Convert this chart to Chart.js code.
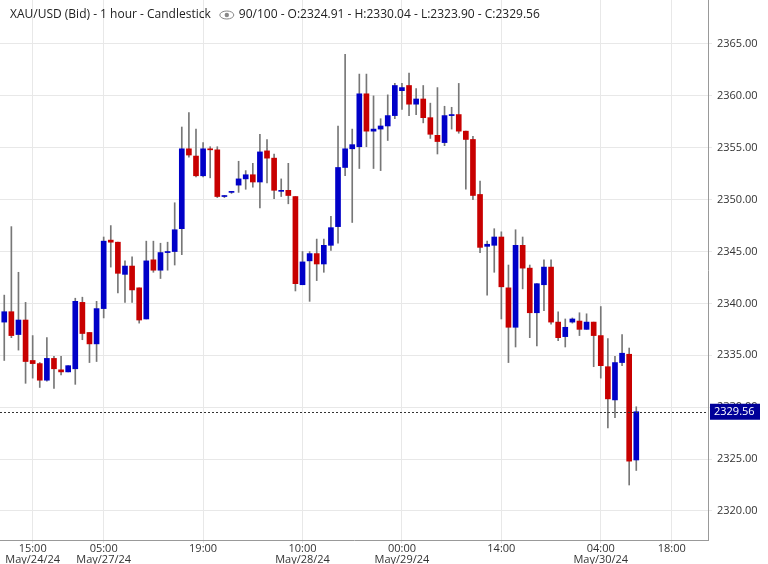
<!DOCTYPE html>
<html>
<head>
<meta charset="utf-8">
<script src="https://cdn.jsdelivr.net/npm/chart.js@4/dist/chart.umd.min.js"></script>
<style>
  body { margin: 0; background: #fff; }
  #wrap { width: 768px; height: 564px; }
</style>
</head>
<body>
<div id="wrap"><canvas id="chart"></canvas></div>
<script>
// OHLC per hourly candle
var opens = [2338.2,2339.2,2337.0,2338.4,2334.5,2334.2,2332.6,2334.7,2333.6,2333.4,
  2333.7,2340.1,2337.2,2336.1,2339.5,2346.1,2345.9,2342.8,2343.6,2341.5,
  2338.5,2344.2,2343.2,2344.9,2345.0,2347.2,2354.9,2354.2,2352.3,2354.9,
  2354.8,2350.3,2350.7,2351.4,2352.0,2352.4,2351.7,2354.7,2354.0,2350.8,
  2350.9,2350.3,2341.8,2344.1,2344.8,2343.8,2345.6,2347.4,2353.1,2354.9,
  2355.1,2360.2,2356.6,2356.8,2357.1,2358.1,2360.5,2361.0,2359.2,2359.7,
  2357.9,2356.2,2355.5,2358.1,2358.2,2356.6,2355.8,2350.5,2345.5,2345.6,
  2346.4,2341.5,2337.7,2345.6,2343.4,2339.1,2341.8,2343.5,2338.2,2336.8,
  2338.2,2338.3,2337.5,2338.2,2336.9,2333.9,2330.7,2334.3,2335.1,2324.91];
var highs = [2340.8,2347.4,2343.0,2340.1,2336.9,2334.3,2336.7,2334.9,2334.9,2334.0,
  2340.5,2340.6,2337.2,2340.2,2346.4,2347.5,2345.9,2344.1,2344.5,2341.5,
  2346.0,2346.0,2345.8,2345.9,2349.7,2357.0,2358.4,2356.8,2355.5,2355.1,
  2355.1,2350.4,2350.8,2353.7,2352.8,2353.5,2356.3,2355.8,2354.4,2352.0,
  2353.5,2350.3,2345.0,2345.0,2346.2,2346.2,2348.4,2357.1,2364.0,2356.8,
  2362.1,2362.1,2360.0,2357.8,2360.1,2361.2,2361.2,2362.2,2360.7,2361.0,
  2359.3,2360.8,2359.0,2358.9,2361.2,2356.6,2356.1,2351.8,2346.0,2347.2,
  2346.9,2343.7,2347.1,2346.4,2343.7,2341.9,2344.2,2344.2,2339.2,2338.5,
  2338.6,2339.1,2339.0,2338.2,2339.7,2336.6,2334.9,2337.0,2335.7,2330.04];
var lows = [2334.5,2336.7,2335.5,2332.3,2332.8,2331.9,2332.5,2331.8,2333.1,2333.4,
  2332.2,2336.5,2334.3,2334.4,2338.6,2343.5,2341.0,2340.1,2340.1,2338.1,
  2338.5,2343.0,2342.4,2343.2,2343.7,2344.7,2354.1,2352.2,2352.2,2352.1,
  2350.2,2350.2,2350.6,2350.7,2351.0,2351.2,2349.2,2351.6,2350.1,2350.3,
  2349.6,2341.2,2341.8,2340.2,2342.2,2343.0,2345.1,2345.8,2352.3,2347.8,
  2353.0,2355.1,2353.0,2352.8,2355.7,2357.8,2358.7,2358.1,2358.2,2357.4,
  2355.9,2354.4,2355.2,2356.8,2356.4,2351.0,2350.0,2344.9,2340.8,2343.0,
  2338.5,2334.3,2335.8,2341.4,2336.7,2335.9,2339.3,2338.0,2336.4,2335.8,
  2338.1,2336.9,2337.5,2333.9,2332.8,2328.0,2329.0,2334.0,2322.5,2323.90];
var closes = [2339.2,2336.9,2338.4,2334.4,2334.2,2332.6,2334.7,2333.7,2333.4,2334.0,
  2340.2,2337.1,2336.1,2339.5,2346.0,2345.9,2342.9,2343.6,2341.3,2338.4,
  2344.1,2343.2,2344.9,2345.0,2347.1,2354.9,2354.3,2352.3,2354.9,2354.8,
  2350.3,2350.3,2350.7,2352.0,2352.4,2351.7,2354.6,2354.0,2350.9,2350.9,
  2350.4,2341.9,2344.0,2344.8,2343.8,2345.6,2347.3,2353.1,2354.9,2355.3,
  2360.2,2356.6,2356.8,2357.1,2358.1,2361.0,2360.8,2359.2,2359.7,2357.9,
  2356.3,2355.6,2358.1,2358.2,2356.6,2355.8,2350.4,2345.4,2345.7,2346.4,
  2341.6,2337.7,2345.6,2343.4,2339.1,2341.9,2343.5,2338.2,2336.7,2337.7,
  2338.5,2337.5,2338.2,2336.9,2334.0,2330.8,2334.3,2335.2,2324.8,2329.56];

// x tick labels at candle indices
var tickIdx = [4, 14, 28, 42, 56, 70, 84, 94];
var tickTimes = ['15:00','05:00','19:00','10:00','00:00','14:00','04:00','18:00'];
var tickDates = ['May/24/24','May/27/24','','May/28/24','May/29/24','','May/30/24',''];
var yTicks = [2320, 2325, 2330, 2335, 2340, 2345, 2350, 2355, 2360, 2365];

var lastPrice = 2329.56;
var title = 'XAU/USD (Bid) - 1 hour - Candlestick';
var titleRest = '90/100 - O:2324.91 - H:2330.04 - L:2323.90 - C:2329.56';

var UP = '#0000c8', DOWN = '#c80000';
var wicks = [], bodies = [], bodyColors = [];
for (var i = 0; i < opens.length; i++) {
    wicks.push({x: i, y: [lows[i], highs[i]]});
    bodies.push({x: i, y: [opens[i], closes[i]]});
    bodyColors.push(closes[i] >= opens[i] ? UP : DOWN);
}

var overlay = {
    id: 'overlay',
    afterDatasetsDraw: function(chart) {
        var ctx = chart.ctx, y = chart.scales.y, area = chart.chartArea;
        var py = y.getPixelForValue(lastPrice);
        ctx.save();
        ctx.strokeStyle = '#333';
        ctx.lineWidth = 1;
        ctx.setLineDash([2, 2]);
        ctx.beginPath();
        ctx.moveTo(area.left, Math.round(py) + 0.5);
        ctx.lineTo(area.right, Math.round(py) + 0.5);
        ctx.stroke();
        ctx.setLineDash([]);
        ctx.fillStyle = '#000099';
        ctx.fillRect(area.right + 2, py - 8, 50, 16);
        ctx.fillStyle = '#fff';
        ctx.font = '11px "Open Sans", Arial, sans-serif';
        ctx.textBaseline = 'middle';
        ctx.fillText(lastPrice.toFixed(2), area.right + 6, py);
        // half-hidden top label
        ctx.fillStyle = '#666';
        ctx.fillText('2370.00', area.right + 9, y.getPixelForValue(2370));
        // title
        ctx.font = '12px "Open Sans", Arial, sans-serif';
        ctx.fillStyle = '#222';
        ctx.fillText(title, 10, 15);
        var w = ctx.measureText(title).width + 10;
        ctx.strokeStyle = '#888';
        ctx.beginPath();
        ctx.ellipse(w + 16, 15, 7, 4, 0, 0, Math.PI * 2);
        ctx.stroke();
        ctx.fillStyle = '#888';
        ctx.beginPath();
        ctx.arc(w + 16, 15, 2.2, 0, Math.PI * 2);
        ctx.fill();
        ctx.fillStyle = '#222';
        ctx.fillText(titleRest, w + 28, 15);
        ctx.restore();
    }
};

new Chart(document.getElementById('chart'), {
    type: 'bar',
    data: {
        datasets: [
            {data: wicks, backgroundColor: '#777', barThickness: 1, grouped: false, order: 2},
            {data: bodies, backgroundColor: bodyColors, barThickness: 5, minBarLength: 1, grouped: false, order: 1}
        ]
    },
    options: {
        responsive: true,
        maintainAspectRatio: false,
        animation: false,
        layout: {padding: 0},
        plugins: {legend: {display: false}, tooltip: {enabled: false}},
        scales: {
            x: {
                type: 'linear',
                offset: false,
                min: -0.6,
                max: 99.1,
                afterBuildTicks: function(s) { s.ticks = tickIdx.map(function(v) { return {value: v}; }); },
                afterFit: function(s) { s.height = 24; s.paddingLeft = 0; s.paddingRight = 0; },
                ticks: {
                    autoSkip: false, maxRotation: 0, padding: 0,
                    color: '#333',
                    font: {size: 11, family: '"Open Sans", Arial, sans-serif', lineHeight: 1},
                    callback: function(v) {
                        var k = tickIdx.indexOf(v);
                        return tickDates[k] ? [tickTimes[k], tickDates[k]] : tickTimes[k];
                    }
                },
                grid: {color: '#e8e8e8', tickLength: 3, offset: false},
                border: {color: '#999'}
            },
            y: {
                position: 'right',
                min: 2317.2,
                max: 2369.24,
                afterBuildTicks: function(s) { s.ticks = yTicks.map(function(v) { return {value: v}; }); },
                afterFit: function(s) { s.width = 60; s.paddingTop = 0; s.paddingBottom = 0; },
                ticks: {
                    color: '#333', padding: 5,
                    font: {size: 11, family: '"Open Sans", Arial, sans-serif'},
                    callback: function(v) { return v.toFixed(2); }
                },
                grid: {color: '#e8e8e8', tickLength: 4},
                border: {color: '#999'}
            }
        }
    },
    plugins: [overlay]
});
</script>
</body>
</html>
